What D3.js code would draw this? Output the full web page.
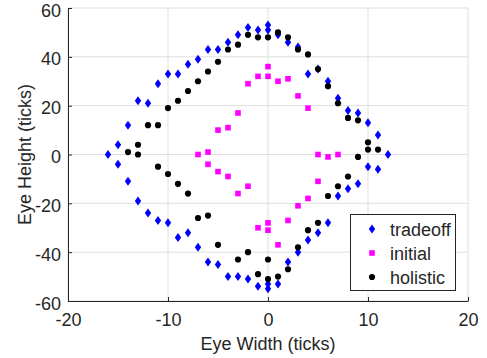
<!DOCTYPE html>
<html>
<head>
<meta charset="utf-8">
<script src="https://cdn.jsdelivr.net/npm/d3@7"></script>
<style>
  body { margin: 0; background: #fff; }
  text { font-family: "Liberation Sans", Arial, sans-serif; fill: #262626; }
</style>
</head>
<body>
<script>
// eye width / height pairs in ticks
var tradeoff = [
  [-16, 0], [-15, 4], [-14, 12], [-13, 22], [-12, 21], [-11, 29], [-10, 33], [-9, 33],
  [-8, 37], [-7, 39], [-6, 43], [-5, 43], [-4, 46], [-3, 49], [-2, 52], [-1, 51],
  [0, 51], [0, 53], [1, 49], [2, 46], [3, 44], [4, 33], [5, 35], [6, 30], [7, 23],
  [8, 18], [9, 17], [10, 13], [11, 8], [12, 0], [10, -5], [11, -6], [9, -12], [8, -14],
  [7, -17], [6, -28], [5, -32], [4, -35], [3, -40], [2, -44], [1, -53], [0, -53],
  [0, -55], [-1, -54], [-2, -51], [-3, -50], [-4, -50], [-5, -45], [-6, -44], [-7, -38],
  [-8, -32], [-9, -34], [-10, -28], [-11, -27], [-12, -24], [-13, -19], [-14, -11], [-15, -4]
];
var initial = [
  [-7, 0], [-6, 1], [-5, 10], [-4, 11], [-3, 17], [-2, 29], [-1, 32], [0, 32], [0, 36],
  [1, 30], [2, 31], [3, 24], [4, 19], [5, 0], [6, -1], [7, 0], [5, -11], [4, -18],
  [3, -21], [2, -27], [1, -37], [0, -28], [0, -31], [-1, -30], [-2, -13], [-3, -16],
  [-4, -9], [-5, -7], [-6, -4]
];
var holistic = [
  [-14, 1], [-13, 4], [-13, 0], [-12, 12], [-11, 12], [-10, 19], [-9, 22], [-8, 26],
  [-7, 30], [-6, 34], [-5, 38], [-4, 43], [-3, 45], [-2, 49], [-1, 48], [0, 48],
  [1, 50], [2, 48], [3, 43], [4, 41], [5, 35], [6, 28], [7, 21], [8, 15], [9, 14],
  [10, 5], [10, 2], [11, 2], [9, -1], [8, -9], [7, -13], [6, -17], [5, -28], [4, -31],
  [3, -38], [2, -47], [1, -50], [0, -51], [0, -43], [-1, -49], [-2, -40], [-3, -43],
  [-5, -37], [-6, -25], [-7, -26], [-8, -16], [-9, -12], [-10, -8], [-11, -5]
];
var xTicks = [-20, -10, 0, 10, 20];
var yTicks = [-60, -40, -20, 0, 20, 40, 60];
var seriesNames = ["tradeoff", "initial", "holistic"];

var W = 487, H = 358;
var margin = {top: 8, right: 19, bottom: 57, left: 68};
var w = W - margin.left - margin.right;
var h = H - margin.top - margin.bottom;
var FS = 18;

var svg = d3.select("body").append("svg")
  .attr("width", W)
  .attr("height", H);

var g = svg.append("g")
  .attr("transform", "translate(" + margin.left + "," + margin.top + ")");

var x = d3.scaleLinear().domain([-20, 20]).range([0, w]);
var y = d3.scaleLinear().domain([-60, 60]).range([h, 0]);

// grid
g.append("g").selectAll("line").data(xTicks).enter().append("line")
  .attr("x1", function(d) { return x(d); })
  .attr("x2", function(d) { return x(d); })
  .attr("y1", 0).attr("y2", h)
  .attr("stroke", "#dfdfdf");
g.append("g").selectAll("line").data(yTicks).enter().append("line")
  .attr("y1", function(d) { return y(d); })
  .attr("y2", function(d) { return y(d); })
  .attr("x1", 0).attr("x2", w)
  .attr("stroke", "#dfdfdf");

// plain hyphen minus, like the original
var fmt = function(d) { return String(d); };

// axes, inward ticks
var xAxis = g.append("g")
  .attr("transform", "translate(0," + h + ")")
  .call(d3.axisBottom(x).tickValues(xTicks).tickFormat(fmt)
    .tickSizeInner(-4).tickSizeOuter(0).tickPadding(12));
var yAxis = g.append("g")
  .call(d3.axisLeft(y).tickValues(yTicks).tickFormat(fmt)
    .tickSizeInner(-4).tickSizeOuter(0).tickPadding(7));
yAxis.selectAll(".tick text").attr("dy", "0.45em");

[xAxis, yAxis].forEach(function(a) {
  a.select(".domain").attr("stroke", "#262626");
  a.selectAll(".tick line").attr("stroke", "#262626");
  a.selectAll(".tick text")
    .attr("font-size", FS)
    .attr("font-family", "Liberation Sans, Arial, sans-serif")
    .attr("fill", "#262626");
});

// axis labels
svg.append("text")
  .attr("x", margin.left + w / 2)
  .attr("y", 350)
  .attr("text-anchor", "middle")
  .attr("font-size", FS)
  .text("Eye Width  (ticks)");
svg.append("text")
  .attr("transform", "translate(31," + (margin.top + h / 2) + ") rotate(-90)")
  .attr("text-anchor", "middle")
  .attr("font-size", FS)
  .text("Eye Height  (ticks)");

// markers
function diamond(sel) {
  sel.attr("d", "M0,-4.5L3.2,0L0,4.5L-3.2,0Z").attr("fill", "#0000ff");
}
function square(sel) {
  sel.attr("d", "M-2.8,-2.8H2.8V2.8H-2.8Z").attr("fill", "#ff00ff");
}
function dot(sel) {
  sel.attr("d", d3.symbol().type(d3.symbolCircle).size(30)()).attr("fill", "#000");
}
var shapes = [diamond, square, dot];
var data = [tradeoff, initial, holistic];

data.forEach(function(series, i) {
  g.append("g").selectAll("path").data(series).enter().append("path")
    .attr("transform", function(d) { return "translate(" + x(d[0]) + "," + y(d[1]) + ")"; })
    .call(shapes[i]);
});

// legend
var leg = svg.append("g");
leg.append("rect")
  .attr("x", 350.5).attr("y", 214.5)
  .attr("width", 105).attr("height", 76)
  .attr("fill", "#fff").attr("stroke", "#262626");
seriesNames.forEach(function(name, i) {
  var ly = 229 + i * 24;
  leg.append("path")
    .attr("transform", "translate(372," + ly + ")")
    .call(shapes[i]);
  leg.append("text")
    .attr("x", 390).attr("y", ly + 6.5)
    .attr("font-size", FS)
    .text(name);
});
</script>
</body>
</html>
